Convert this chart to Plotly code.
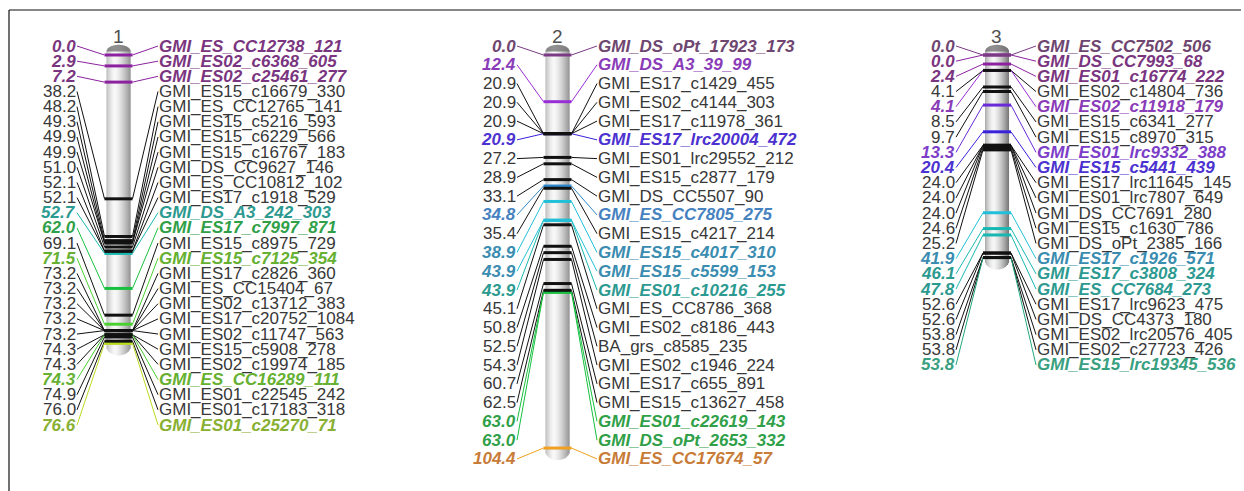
import plotly.graph_objects as go

# ---------------- data: marker positions (cM) and names per linkage group ----------------
CHR_TITLES = ["1", "2", "3"]

CHR1_POS = [0.0, 2.9, 7.2, 38.2, 48.2, 49.3, 49.9, 49.9, 51.0, 52.1, 52.1, 52.7, 62.0,
            69.1, 71.5, 73.2, 73.2, 73.2, 73.2, 73.2, 74.3, 74.3, 74.3, 74.9, 76.0, 76.6]
CHR1_NAMES = ["GMI_ES_CC12738_121", "GMI_ES02_c6368_605", "GMI_ES02_c25461_277",
              "GMI_ES15_c16679_330", "GMI_ES_CC12765_141", "GMI_ES15_c5216_593",
              "GMI_ES15_c6229_566", "GMI_ES15_c16767_183", "GMI_DS_CC9627_146",
              "GMI_ES_CC10812_102", "GMI_ES17_c1918_529", "GMI_DS_A3_242_303",
              "GMI_ES17_c7997_871", "GMI_ES15_c8975_729", "GMI_ES15_c7125_354",
              "GMI_ES17_c2826_360", "GMI_ES_CC15404_67", "GMI_ES02_c13712_383",
              "GMI_ES17_c20752_1084", "GMI_ES02_c11747_563", "GMI_ES15_c5908_278",
              "GMI_ES02_c19974_185", "GMI_ES_CC16289_111", "GMI_ES01_c22545_242",
              "GMI_ES01_c17183_318", "GMI_ES01_c25270_71"]

CHR2_POS = [0.0, 12.4, 20.9, 20.9, 20.9, 20.9, 27.2, 28.9, 33.1, 34.8, 35.4, 38.9,
            43.9, 43.9, 45.1, 50.8, 52.5, 54.3, 60.7, 62.5, 63.0, 63.0, 104.4]
CHR2_NAMES = ["GMI_DS_oPt_17923_173", "GMI_DS_A3_39_99", "GMI_ES17_c1429_455",
              "GMI_ES02_c4144_303", "GMI_ES17_c11978_361", "GMI_ES17_lrc20004_472",
              "GMI_ES01_lrc29552_212", "GMI_ES15_c2877_179", "GMI_DS_CC5507_90",
              "GMI_ES_CC7805_275", "GMI_ES15_c4217_214", "GMI_ES15_c4017_310",
              "GMI_ES15_c5599_153", "GMI_ES01_c10216_255", "GMI_ES_CC8786_368",
              "GMI_ES02_c8186_443", "BA_grs_c8585_235", "GMI_ES02_c1946_224",
              "GMI_ES17_c655_891", "GMI_ES15_c13627_458", "GMI_ES01_c22619_143",
              "GMI_DS_oPt_2653_332", "GMI_ES_CC17674_57"]

CHR3_POS = [0.0, 0.0, 2.4, 4.1, 4.1, 8.5, 9.7, 13.3, 20.4, 24.0, 24.0, 24.0, 24.6,
            25.2, 41.9, 46.1, 47.8, 52.6, 52.6, 53.8, 53.8, 53.8]
CHR3_NAMES = ["GMI_ES_CC7502_506", "GMI_DS_CC7993_68", "GMI_ES01_c16774_222",
              "GMI_ES02_c14804_736", "GMI_ES02_c11918_179", "GMI_ES15_c6341_277",
              "GMI_ES15_c8970_315", "GMI_ES01_lrc9332_388", "GMI_ES15_c5441_439",
              "GMI_ES17_lrc11645_145", "GMI_ES01_lrc7807_649", "GMI_DS_CC7691_280",
              "GMI_ES15_c1630_786", "GMI_DS_oPt_2385_166", "GMI_ES17_c1926_571",
              "GMI_ES17_c3808_324", "GMI_ES_CC7684_273", "GMI_ES17_lrc9623_475",
              "GMI_DS_CC4373_180", "GMI_ES02_lrc20576_405", "GMI_ES02_c27723_426",
              "GMI_ES15_lrc19345_536"]

# highlighted markers -> colour group
MARKER_GROUP = {
    "GMI_ES_CC12738_121": "plum", "GMI_ES02_c6368_605": "plum", "GMI_ES02_c25461_277": "plum",
    "GMI_DS_A3_242_303": "teal", "GMI_ES17_c7997_871": "green",
    "GMI_ES15_c7125_354": "lime", "GMI_ES_CC16289_111": "lime", "GMI_ES01_c25270_71": "olive",
    "GMI_DS_oPt_17923_173": "plum_dark", "GMI_DS_A3_39_99": "violet",
    "GMI_ES17_lrc20004_472": "indigo", "GMI_ES_CC7805_275": "steel",
    "GMI_ES15_c4017_310": "cyan", "GMI_ES15_c5599_153": "cyan", "GMI_ES01_c10216_255": "teal",
    "GMI_ES01_c22619_143": "green", "GMI_DS_oPt_2653_332": "green",
    "GMI_ES_CC17674_57": "orange",
    "GMI_ES_CC7502_506": "plum_dark", "GMI_DS_CC7993_68": "plum", "GMI_ES01_c16774_222": "plum",
    "GMI_ES02_c11918_179": "violet", "GMI_ES01_lrc9332_388": "violet2",
    "GMI_ES15_c5441_439": "indigo", "GMI_ES17_c1926_571": "cyan",
    "GMI_ES17_c3808_324": "teal", "GMI_ES_CC7684_273": "teal",
    "GMI_ES15_lrc19345_536": "seagreen",
}

# ---------------- styling ----------------
# (label colour, band colour)
GROUP_COLORS = {
    "plain": ("#383838", "#111111"),
    "plum_dark": ("#6e4670", "#7a3a84"),
    "plum": ("#7a3580", "#8c22a0"),
    "violet": ("#8a3cb8", "#9a2ed6"),
    "violet2": ("#7c3ec8", "#6a2ad8"),
    "indigo": ("#4c32d0", "#3a22dc"),
    "steel": ("#4682c0", "#2f86c8"),
    "cyan": ("#3a8cb0", "#22c0d8"),
    "teal": ("#2c9a90", "#18b8b0"),
    "seagreen": ("#38a080", "#22a880"),
    "green": ("#30a048", "#18c040"),
    "lime": ("#66b032", "#4ad030"),
    "olive": ("#88b032", "#b8dc20"),
    "orange": ("#c87c38", "#f0a020"),
}

FONT = "Liberation Sans, Arial, sans-serif"
FONT_SIZE = 17
PX_PER_CM = 3.765          # vertical map scale
TOP_PX = 55                # pixel row of 0 cM
W, H = 1244, 491
Y_TOP = -TOP_PX / PX_PER_CM
Y_BOT = (H - TOP_PX) / PX_PER_CM

# per linkage group layout: centre x, number right edge, name left edge, label row step (cM)
LAYOUT = [
    dict(cx=118.5, num_x=76, name_x=159, step=15.16 / PX_PER_CM),
    dict(cx=557.5, num_x=516, name_x=598, step=18.77 / PX_PER_CM),
    dict(cx=997.0, num_x=955, name_x=1037, step=15.19 / PX_PER_CM),
]
LABEL_TOP = (46 - TOP_PX) / PX_PER_CM
HALF_W = 12

CHROMS = [(CHR1_POS, CHR1_NAMES), (CHR2_POS, CHR2_NAMES), (CHR3_POS, CHR3_NAMES)]

fig = go.Figure()
shapes = []
annotations = []


def tube_gray(t):
    peak = 0.36
    if t < peak:
        v = 246 - 78 * ((peak - t) / peak) ** 1.6
    else:
        v = 246 - 130 * ((t - peak) / (1 - peak)) ** 1.4
    v = int(round(v))
    return f"rgb({v},{v},{v})"


band_traces = {}   # colour -> (xs, ys), drawn coloured first then black
line_traces = {}

for (pos, names), lay, title in zip(CHROMS, LAYOUT, CHR_TITLES):
    cx = lay["cx"]
    top_c, dome_h = -0.9, 1.8
    bot_c, round_h = max(pos) + 0.8, 2.4
    n = 2 * HALF_W
    # shaded cylinder body built from thin vertical strips
    for k in range(n):
        x0 = cx - HALF_W + k
        u = (k + 0.5) / n * 2 - 1
        r = max(0.0, 1 - u * u) ** 0.5
        yt = top_c - dome_h * r
        yb = bot_c + round_h * r
        col = tube_gray((k + 0.5) / n)
        shapes.append(dict(type="rect", xref="x", yref="y", x0=x0, x1=x0 + 1.05,
                           y0=yt, y1=yb, fillcolor=col, line_width=0, layer="below"))
    # darker dome at the top
    path = f"M {cx-HALF_W},{top_c} "
    pts = []
    for k in range(0, 25):
        u = -1 + 2 * k / 24
        r = max(0.0, 1 - u * u) ** 0.5
        pts.append(f"L {cx + HALF_W*u:.2f},{top_c - dome_h * r:.3f}")
    path += " ".join(pts) + " Z"
    shapes.append(dict(type="path", xref="x", yref="y", path=path,
                       fillcolor="rgba(110,110,110,0.75)", line_width=0, layer="below"))

    # linkage group title
    annotations.append(dict(x=cx - 0.5, y=(36 - TOP_PX) / PX_PER_CM, xref="x", yref="y",
                            text=title, showarrow=False,
                            font=dict(family=FONT, size=19, color="#505050")))

    for i, (p, name) in enumerate(zip(pos, names)):
        grp = MARKER_GROUP.get(name, "plain")
        lab_col, band_col = GROUP_COLORS[grp]
        row = LABEL_TOP + i * lay["step"]
        num_txt = f"{p:.1f}"
        if grp != "plain":
            num_txt = f"<b><i>{num_txt}</i></b>"
            name_txt = f"<b><i>{name}</i></b>"
        else:
            name_txt = name
        annotations.append(dict(x=lay["num_x"] + 2, y=row, xref="x", yref="y", text=num_txt,
                                showarrow=False, xanchor="right", yanchor="middle",
                                font=dict(family=FONT, size=FONT_SIZE, color=lab_col)))
        annotations.append(dict(x=lay["name_x"] - 2, y=row, xref="x", yref="y", text=name_txt,
                                showarrow=False, xanchor="left", yanchor="middle",
                                font=dict(family=FONT, size=FONT_SIZE, color=lab_col)))
        line_col = "#101010" if grp == "plain" else band_col
        xs, ys = line_traces.setdefault(line_col, ([], []))
        xs += [lay["num_x"] + 1, cx - HALF_W - 2, None, cx + HALF_W + 2, lay["name_x"] - 1, None]
        ys += [row, p, None, p, row, None]
        bx, by = band_traces.setdefault(band_col, ([], []))
        bx += [cx - HALF_W - 2, cx + HALF_W + 2, None]
        by += [p, p, None]

for col, (xs, ys) in line_traces.items():
    fig.add_trace(go.Scatter(x=xs, y=ys, mode="lines", line=dict(color=col, width=1),
                             hoverinfo="skip", showlegend=False))
black = GROUP_COLORS["plain"][1]
for col, (xs, ys) in sorted(band_traces.items(), key=lambda kv: kv[0] == black):
    fig.add_trace(go.Scatter(x=xs, y=ys, mode="lines", line=dict(color=col, width=3),
                             hoverinfo="skip", showlegend=False))

# frame
shapes.append(dict(type="line", xref="x", yref="paper", x0=9, x1=9, y0=0, y1=1 - 10 / H,
                   line=dict(color="#111111", width=1.2)))
shapes.append(dict(type="line", xref="x", yref="paper", x0=9, x1=1241, y0=1 - 10 / H,
                   y1=1 - 10 / H, line=dict(color="#111111", width=1.2)))

fig.update_layout(
    width=W, height=H, margin=dict(l=0, r=0, t=0, b=0),
    paper_bgcolor="white", plot_bgcolor="white",
    xaxis=dict(range=[0, W], visible=False, fixedrange=True),
    yaxis=dict(range=[Y_BOT, Y_TOP], visible=False, fixedrange=True),
    shapes=shapes, annotations=annotations, showlegend=False,
)

fig.write_html("out.html")
